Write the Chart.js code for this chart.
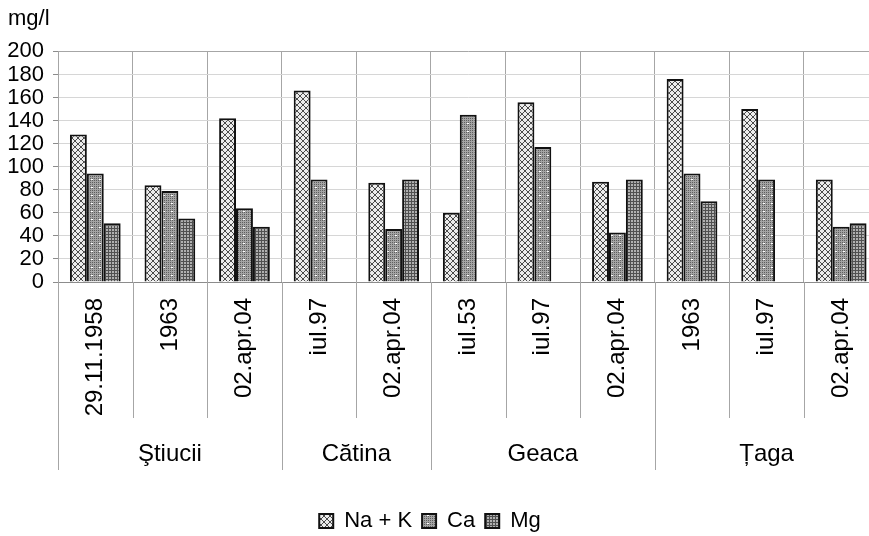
<!DOCTYPE html>
<html>
<head>
<meta charset="utf-8">
<script src="https://cdn.jsdelivr.net/npm/chart.js@4.4.1/dist/chart.umd.min.js"></script>
<style>
  html, body { margin: 0; padding: 0; background: #fff; }
  #wrap { width: 869px; height: 536px; overflow: hidden; }
</style>
</head>
<body>
<div id="wrap"><canvas id="chart" width="886" height="536"></canvas></div>
<script>
// sample dates (x labels), grouped by station
const dates = ["29.11.1958", "1963", "02.apr.04", "iul.97", "02.apr.04", "iul.53", "iul.97", "02.apr.04", "1963", "iul.97", "02.apr.04"];
const groups = ["Ştiucii", "Cătina", "Geaca", "Țaga"];
const groupSizes = [3, 2, 3, 3];

// mg/l
const naK = [128, 84, 142, 166, 86, 60, 156, 87, 176, 150, 89];
const ca = [94, 79, 64, 89, 46, 145, 117, 43, 94, 89, 48];
const mg = [51, 55, 48, null, 89, null, null, 89, 70, null, 51];

const yTicks = [0, 20, 40, 60, 80, 100, 120, 140, 160, 180, 200];

const font = "'Liberation Sans', Arial, sans-serif";

// hatch fills
function makePattern(size, draw) {
    const c = document.createElement("canvas");
    c.width = c.height = size;
    const g = c.getContext("2d");
    draw(g, size);
    return g.createPattern(c, "repeat");
}

const patNaK = makePattern(6, function (g, s) {
    g.fillStyle = "#ececec";
    g.fillRect(0, 0, s, s);
    g.fillStyle = "#4a4a4a";
    for (let i = 0; i < s; i++) {
        g.fillRect(i, i, 1, 1);
        g.fillRect(s - 1 - i, i, 1, 1);
    }
});

const patCa = makePattern(8, function (g, s) {
    g.fillStyle = "#a4a4a4";
    g.fillRect(0, 0, s, s);
    g.fillStyle = "#5e5e5e";
    for (let x = 0; x < s; x += 2) {
        for (let y = 0; y < s; y += 2) g.fillRect(x, y, 1, 1);
    }
    g.fillStyle = "#ffffff";
    g.fillRect(3, 3, 2, 1);
});

const patMg = makePattern(3, function (g, s) {
    g.fillStyle = "#b0b0b0";
    g.fillRect(0, 0, s, s);
    g.fillStyle = "#505050";
    g.fillRect(0, 0, s, 1);
    g.fillRect(0, 0, 1, s);
});

// lines under the axis + station names
const groupAxis = {
    id: "groupAxis",
    afterDraw(chart) {
        const ctx = chart.ctx;
        const xs = chart.scales.x;
        const bottom = chart.chartArea.bottom;
        const bounds = [0];
        groupSizes.forEach(function (n) { bounds.push(bounds[bounds.length - 1] + n); });

        ctx.save();
        ctx.strokeStyle = "#a6a6a6";
        ctx.lineWidth = 1;
        for (let i = 0; i <= dates.length; i++) {
            const x = Math.round(xs.getPixelForValue(i - 0.5)) + 0.5;
            const len = bounds.indexOf(i) >= 0 ? 188 : 136;
            ctx.beginPath();
            ctx.moveTo(x, bottom);
            ctx.lineTo(x, bottom + len);
            ctx.stroke();
        }

        ctx.fillStyle = "#000";
        ctx.font = "24px " + font;
        ctx.textAlign = "center";
        ctx.textBaseline = "middle";
        for (let k = 0; k < groups.length; k++) {
            const x0 = xs.getPixelForValue(bounds[k] - 0.5);
            const x1 = xs.getPixelForValue(bounds[k + 1] - 0.5);
            ctx.fillText(groups[k], (x0 + x1) / 2, bottom + 172);
        }
        ctx.restore();
    }
};

// keep the legend centred on the visible page
const legendPlace = {
    id: "legendPlace",
    afterLayout(chart) {
        const lg = chart.legend;
        const dx = (lg.left + lg.right) / 2 - 430;
        lg.left -= dx;
        lg.right -= dx;
        lg.top += 6;
        lg.bottom += 6;
    }
};

new Chart(document.getElementById("chart"), {
    type: "bar",
    data: {
        labels: dates,
        datasets: [
            { label: "Na + K", data: naK, backgroundColor: patNaK },
            { label: "Ca", data: ca, backgroundColor: patCa },
            { label: "Mg", data: mg, backgroundColor: patMg }
        ]
    },
    options: {
        responsive: false,
        animation: false,
        categoryPercentage: 0.68,
        barPercentage: 1.0,
        datasets: {
            bar: { borderColor: "#111", borderWidth: 2 }
        },
        layout: { padding: { left: 8, right: 0, top: 0, bottom: 0 } },
        scales: {
            x: {
                grid: { color: "#a6a6a6", drawTicks: false, offset: true },
                border: { color: "#8c8c8c" },
                ticks: {
                    color: "#000",
                    font: { family: font, size: 24 },
                    minRotation: 90,
                    maxRotation: 90,
                    padding: 16,
                    autoSkip: false
                },
                afterFit(scale) {
                    scale.height = 536 - 282 - scale.chart.legend.height;
                }
            },
            y: {
                min: 0,
                max: 200,
                afterBuildTicks(scale) {
                    scale.ticks = yTicks.map(function (v) { return { value: v }; });
                },
                afterFit(scale) {
                    scale.width = 50;
                },
                grid: {
                    color: function (c) {
                        if (c.tick && c.tick.value === 200) return "#a6a6a6";
                        return "#d6d6d6";
                    },
                    tickColor: "#8c8c8c",
                    tickLength: 5
                },
                border: { color: "#a6a6a6" },
                ticks: {
                    color: "#000",
                    font: { family: font, size: 22 },
                    padding: 9,
                    autoSkip: false
                }
            }
        },
        plugins: {
            title: {
                display: true,
                text: "mg/l",
                align: "start",
                color: "#000",
                font: { family: font, size: 22, weight: "normal" },
                padding: { top: 6, bottom: 19 }
            },
            legend: {
                position: "bottom",
                labels: {
                    color: "#000",
                    font: { family: font, size: 22 },
                    boxWidth: 14,
                    boxHeight: 14,
                    padding: 10
                }
            },
            tooltip: { enabled: false }
        }
    },
    plugins: [groupAxis, legendPlace]
});
</script>
</body>
</html>
